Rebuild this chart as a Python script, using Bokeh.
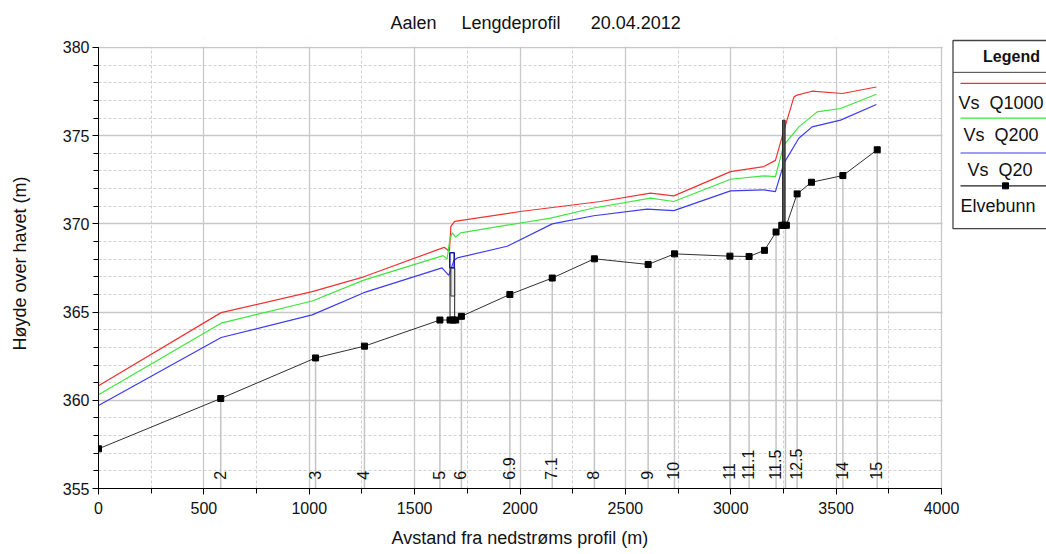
import numpy as np
from bokeh.plotting import figure
from bokeh.models import Range1d, SingleIntervalTicker, ColumnDataSource
from bokeh.core.properties import value
from bokeh.embed import file_html
from bokeh.resources import INLINE

# ---------------- data ----------------
bed_x = [0, 580, 1030, 1262, 1620, 1668, 1682, 1695, 1722, 1952, 2153, 2353, 2608, 2733,
         2996, 3087, 3160, 3215, 3242, 3252, 3264, 3315, 3383, 3532, 3695]
bed_y = [357.25, 360.1, 362.4, 363.07, 364.55, 364.55, 364.55, 364.55, 364.76, 366.0, 366.93,
         368.02, 367.7, 368.3, 368.17, 368.15, 368.5, 369.54, 369.92, 369.92, 369.92, 371.7,
         372.36, 372.74, 374.2]

q1000_x = [0, 582, 1014, 1259, 1640, 1665, 1672, 1690, 2002, 2382, 2619, 2730, 2999, 3157,
           3212, 3250, 3300, 3315, 3386, 3529, 3691]
q1000_y = [360.83, 364.97, 366.16, 367.0, 368.67, 368.45, 369.86, 370.14, 370.7, 371.27,
           371.74, 371.59, 372.96, 373.25, 373.6, 375.2, 377.2, 377.3, 377.52, 377.39, 377.76]

q200_x = [0, 582, 1014, 1259, 1635, 1654, 1667, 1678, 1694, 1718, 2002, 2145, 2350, 2619,
          2730, 2999, 3157, 3212, 3252, 3323, 3410, 3521, 3691]
q200_y = [360.32, 364.37, 365.63, 366.81, 368.2, 368.0, 369.1, 369.49, 369.26, 369.49, 370.05,
          370.33, 370.9, 371.46, 371.27, 372.53, 372.72, 372.68, 374.47, 375.5, 376.35, 376.54,
          377.35]

q20_x = [0, 582, 1014, 1259, 1630, 1662, 1686, 1702, 1939, 2153, 2350, 2603, 2730, 2999,
         3157, 3212, 3252, 3323, 3386, 3521, 3691]
q20_y = [359.7, 363.56, 364.84, 366.1, 367.51, 367.08, 367.92, 368.07, 368.73, 370.0, 370.46,
         370.84, 370.75, 371.87, 371.93, 371.83, 373.43, 374.85, 375.5, 375.88, 376.77]

section_x = [580, 1030, 1262, 1620, 1722, 1952, 2153, 2353, 2608, 2733, 2996, 3087, 3215,
             3260, 3315, 3532, 3695]
section_labels = ["2", "3", "4", "5", "6", "6.9", "7.1", "8", "9", "10", "11", "11.1", "11.5",
                  "", "12.5", "14", "15"]

# structures (bridges / culverts)
bridge1_outer = dict(left=1668, right=1690, bottom=364.55, top=367.51)
bridge1_inner = dict(left=1672, right=1690, bottom=365.91, top=367.51)
bridge1_deck = dict(left=1667, right=1688, bottom=367.51, top=368.36)
bridge2 = dict(left=3246, right=3258, bottom=369.92, top=375.88)

legend_labels = ["Vs\u00a0\u00a0Q1000", "Vs\u00a0\u00a0Q200", "Vs\u00a0\u00a0Q20", "Elvebunn"]
legend_colors = ["#f03232", "#3ce63c", "#3c3cf0", "#202020"]

FONT = "Liberation Sans"

# ---------------- layout geometry (page pixels) ----------------
M = 0                       # observed page offset of the figure
FL, FR, FT, FB = 98, 1046, 38, 490   # frame edges on the page
X0, X1, Y0, Y1 = 0, 4000, 355, 380    # axis extent
PX_X = 843 / 4000.0         # px per metre (x)
PX_Y = 443 / 25.0           # px per metre (y)
xr_end = X0 + (FR - FL) / PX_X
yr_end = Y0 + (FB - FT) / PX_Y


def dx(px):
    return X0 + (px - FL) / PX_X


def dy(py):
    return Y0 + (FB - py) / PX_Y


W, H = 1046, 550
p = figure(width=W, height=H, x_range=Range1d(X0, xr_end), y_range=Range1d(Y0, yr_end),
           output_backend="svg", toolbar_location=None,
           min_border_left=FL - M, min_border_right=W - (FR - M), min_border_top=FT - M,
           min_border_bottom=H - (FB - M))
p.outline_line_color = None
p.background_fill_color = "white"

p.title.text = ("Aalen\u00a0\u00a0\u00a0\u00a0\u00a0Lengdeprofil"
                "\u00a0\u00a0\u00a0\u00a0\u00a0\u00a020.04.2012")
p.title.align = "left"
p.title.offset = 292
p.title.standoff = 11
p.title.text_font = FONT
p.title.text_font_size = "18px"
p.title.text_font_style = "normal"
p.title.text_color = "#111111"

p.xaxis.ticker = SingleIntervalTicker(interval=500, num_minor_ticks=2)
p.yaxis.ticker = SingleIntervalTicker(interval=5, num_minor_ticks=5)
p.xaxis.bounds = (X0, X1)
p.yaxis.bounds = (Y0, Y1)
p.xaxis.axis_label = "Avstand fra nedstrøms profil (m)" + "\u00a0" * 21
p.yaxis.axis_label = "Høyde over havet (m)"
for ax in (p.xaxis, p.yaxis):
    ax.axis_line_color = "black"
    ax.major_tick_line_color = "black"
    ax.minor_tick_line_color = "black"
    ax.major_tick_out = 6
    ax.major_tick_in = 0
    ax.minor_tick_out = 5
    ax.minor_tick_in = 0
    ax.major_label_text_font = FONT
    ax.major_label_text_font_size = "16px"
    ax.major_label_text_color = "#111111"
    ax.axis_label_text_font = FONT
    ax.axis_label_text_font_size = "18px"
    ax.axis_label_text_font_style = "normal"
    ax.axis_label_text_color = "#111111"
p.xaxis.major_label_standoff = 7
p.xaxis.axis_label_standoff = 11
p.yaxis.major_label_standoff = 3
p.yaxis.axis_label_standoff = 30

for g in (p.xgrid, p.ygrid):
    g.grid_line_color = "#c8c8c8"
    g.grid_line_width = 1.3
    g.minor_grid_line_color = "#d0d0d0"
    g.minor_grid_line_dash = "3 2"
    g.minor_grid_line_width = 1
p.xgrid.bounds = (X0, X1)
p.ygrid.bounds = (Y0, Y1)

# white cover for the grid outside the plotted area (right of 4000 and above 380)
p.quad(left=[X1 + 1.2 / PX_X, X0 + 0.6 / PX_X], right=[xr_end, xr_end],
       bottom=[Y0 - 1, Y1 + 0.8 / PX_Y], top=[yr_end, yr_end],
       fill_color="white", line_color=None)

# cross-section lines and labels
sec_top = np.interp(section_x, bed_x, bed_y)
p.segment(x0=section_x, y0=[Y0] * len(section_x), x1=section_x, y1=sec_top,
          line_color="#c4c4c4", line_width=1.5)
lab_src = ColumnDataSource(dict(x=section_x, y=[355.5] * len(section_x), t=section_labels))
p.text(x="x", y="y", text="t", source=lab_src, angle=np.pi / 2, text_align="left",
       text_baseline="alphabetic", x_offset=-1, text_font=value(FONT),
       text_font_size="16px", text_color="#111111")

# water levels
p.line(q1000_x, q1000_y, line_color=legend_colors[0], line_width=1.2)
p.line(q200_x, q200_y, line_color=legend_colors[1], line_width=1.2)
p.line(q20_x, q20_y, line_color=legend_colors[2], line_width=1.2)

# structures
p.quad(**bridge1_outer, fill_color=None, line_color="#222222", line_width=1)
p.quad(**bridge1_inner, fill_color="#e8e8e8", line_color="#333333", line_width=1)
p.quad(**bridge1_deck, fill_color=None, line_color="#1a1aa0", line_width=1.6)
p.quad(**bridge2, fill_color="#555555", line_color="#222222", line_width=1)

# river bed
p.line(bed_x, bed_y, line_color="#303030", line_width=1)
p.scatter(bed_x, bed_y, marker="square", size=6, fill_color="black", line_color="black")

# ---------------- legend (drawn in the area right of the axes) ----------------
far = dx(1120)
p.quad(left=[dx(952.5)], right=[far], top=[dy(40)], bottom=[dy(229)], fill_color="white",
       line_color="#444444", line_width=1.3)
p.segment(x0=[dx(952.5)], y0=[dy(72)], x1=[far], y1=[dy(72)], line_color="#444444",
          line_width=1)
p.text(x=[dx(1011)], y=[dy(56)], text=["Legend"], text_align="center", text_baseline="middle",
       text_font=value(FONT), text_font_size="16px", text_font_style="bold",
       text_color="#111111")
line_py = [83, 118, 153, 186]
text_py = [103, 135, 170, 206]
text_px = [958, 963, 967, 960]
for i in range(4):
    p.line([dx(960), far], [dy(line_py[i])] * 2, line_color=legend_colors[i], line_width=1.2)
    p.text(x=[dx(text_px[i])], y=[dy(text_py[i])], text=[legend_labels[i]], text_align="left",
           text_baseline="middle", text_font=value(FONT), text_font_size="18px",
           text_color="#111111")
p.scatter([dx(1005)], [dy(line_py[3])], marker="square", size=6, fill_color="black",
          line_color="black")

open("out.html", "w").write(file_html(p, INLINE))
